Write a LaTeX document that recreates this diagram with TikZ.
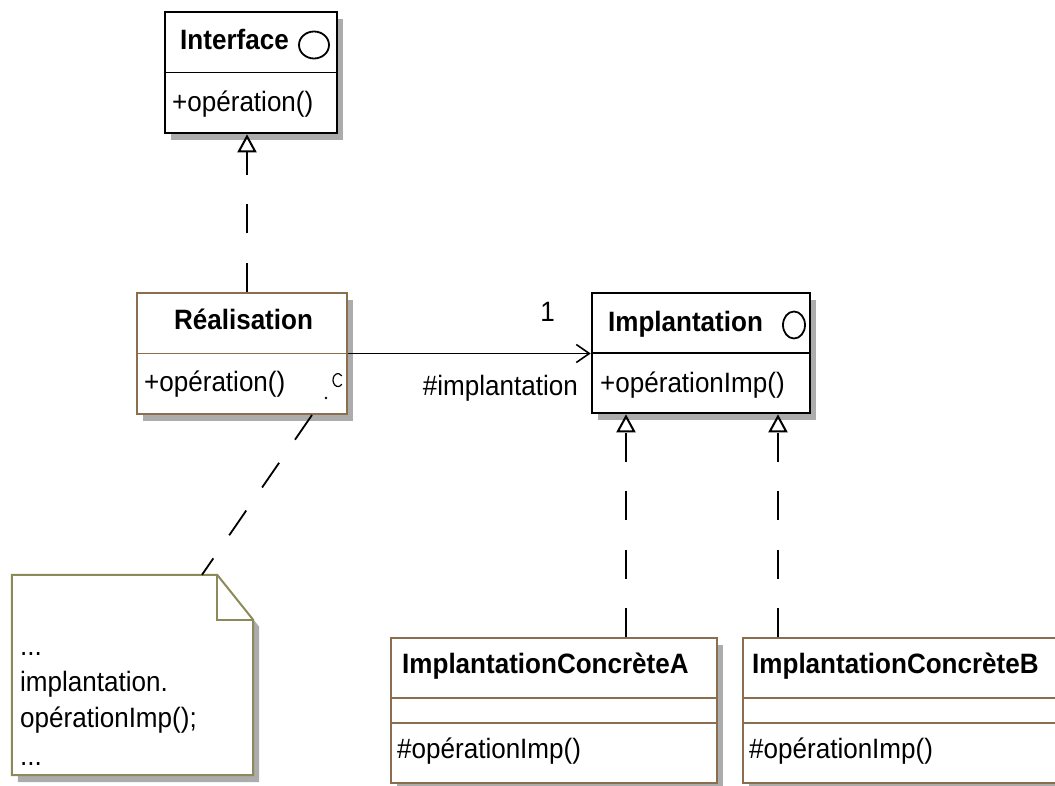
\documentclass[tikz,border=0pt]{standalone}
\usepackage{fontspec}
\setmainfont{Liberation Sans}[FakeStretch=0.93]
\usetikzlibrary{arrows.meta,shadows,shapes.geometric}

\definecolor{umlbrown}{RGB}{138,110,78}
\definecolor{notekhaki}{RGB}{140,138,88}
\definecolor{shadowgray}{RGB}{172,172,172}

\tikzset{
  umlshadow/.style={drop shadow={shadow xshift=6pt, shadow yshift=-7pt, fill=shadowgray, opacity=1}},
  iclass/.style={draw=black, line width=2.6pt, fill=white, inner sep=0pt, umlshadow},
  cclass/.style={draw=umlbrown, line width=2pt, fill=white, inner sep=0pt, umlshadow},
  notebox/.style={draw=notekhaki, line width=2pt, fill=white, umlshadow},
  divider/.style={line width=1.8pt},
  txt/.style={font=\fontsize{28pt}{34pt}\selectfont, inner sep=0pt},
  ctitle/.style={txt, font=\fontsize{28pt}{34pt}\selectfont\bfseries},
  lolly/.style={draw, ellipse, inner sep=0pt, line width=1.8pt},
  realize/.style={line width=2pt, dash pattern=on 29pt off 29.5pt,
    -{Triangle[open, length=18pt, width=19pt]}},
  assoc/.style={line width=1.6pt, -{Straight Barb[length=13pt, width=18pt]}},
  notelink/.style={line width=1.8pt, dash pattern=on 30pt off 28pt},
}

\begin{document}
\begin{tikzpicture}[x=1pt, y=-1pt]
\clip (0,0) rectangle (1055,786);

% class boxes
\node[iclass, minimum width=172pt, minimum height=121pt] (iface) at (251,72.5) {};
\node[cclass, minimum width=210pt, minimum height=121pt] (real) at (242,353.5) {};
\node[iclass, minimum width=218pt, minimum height=120pt] (impl) at (701,353) {};
\node[cclass, minimum width=326pt, minimum height=145pt] (conca) at (554,710.5) {};
\node[cclass, minimum width=326pt, minimum height=145pt] (concb) at (906,710.5) {};

% compartments
\draw[divider] (iface.west) -- (iface.east);
\draw[divider] (impl.west) -- (impl.east);
\draw[divider, umlbrown] (real.west) -- (real.east);
\foreach \c in {conca,concb}
  \foreach \d in {12.5,-12.5}
    \draw[divider, umlbrown] ([yshift=\d pt]\c.west) -- ([yshift=\d pt]\c.east);

% names and operations
\node[ctitle, anchor=base] (ifacename) at (234.5,50) {Interface};
\node[lolly, minimum width=30pt, minimum height=27pt] (ifacering) at (314,45) {};
\node[txt, anchor=base west] (ifaceop) at (172,112) {+opération()};

\node[ctitle, anchor=base] (realname) at (243.5,330) {Réalisation};
\node[txt, anchor=base west] (realop) at (144,391) {+opération()};
\draw[line width=1.2pt] (338,381) ++(40:5) arc[start angle=40, end angle=320, x radius=5, y radius=6.5];
\fill (326,398) circle[radius=1.4];

\node[ctitle, anchor=base] (implname) at (685.5,332) {Implantation};
\node[lolly, minimum width=22pt, minimum height=27pt] (implring) at (794,325) {};
\node[txt, anchor=base west] (implop) at (600,392) {+opérationImp()};

\node[ctitle, anchor=base west] (concaname) at (402,673) {ImplantationConcrèteA};
\node[txt, anchor=base west] (concaop) at (397,758) {\#opérationImp()};
\node[ctitle, anchor=base west] (concbname) at (752,673) {ImplantationConcrèteB};
\node[txt, anchor=base west] (concbop) at (749,758) {\#opérationImp()};

% note
\node[minimum width=241pt, minimum height=200pt, inner sep=0pt] (note) at (132.5,675) {};
\filldraw[notebox] (note.north west) -- ([xshift=-36pt]note.north east)
  -- ([yshift=-45pt]note.north east) -- (note.south east) -- (note.south west) -- cycle;
\draw[notekhaki, line width=2pt] ([xshift=-36pt]note.north east) |- ([yshift=-45pt]note.north east);
\node[txt, anchor=base west, align=left, font=\fontsize{28pt}{36pt}\selectfont] (notetext) at (20,765)
  {...\\implantation.\\opérationImp();\\[2pt]...};

% relations
\coordinate (realtop) at ([xshift=5pt]real.north);
\draw[realize] (realtop) -- (realtop |- iface.south);
\coordinate (atop) at ([xshift=72pt]conca.north);
\draw[realize] (atop) -- (atop |- impl.south);
\coordinate (btop) at ([xshift=-128pt]concb.north);
\draw[realize] (btop) -- (btop |- impl.south);

\draw[assoc] (real.east) -- (real.east -| impl.west);
\node[txt, anchor=base] (mult) at (547.5,322) {1};
\node[txt, anchor=base east] (role) at (578,395) {\#implantation};

\draw[notelink] ([xshift=70pt]real.south) -- ([xshift=69.5pt]note.north);
\end{tikzpicture}
\end{document}
